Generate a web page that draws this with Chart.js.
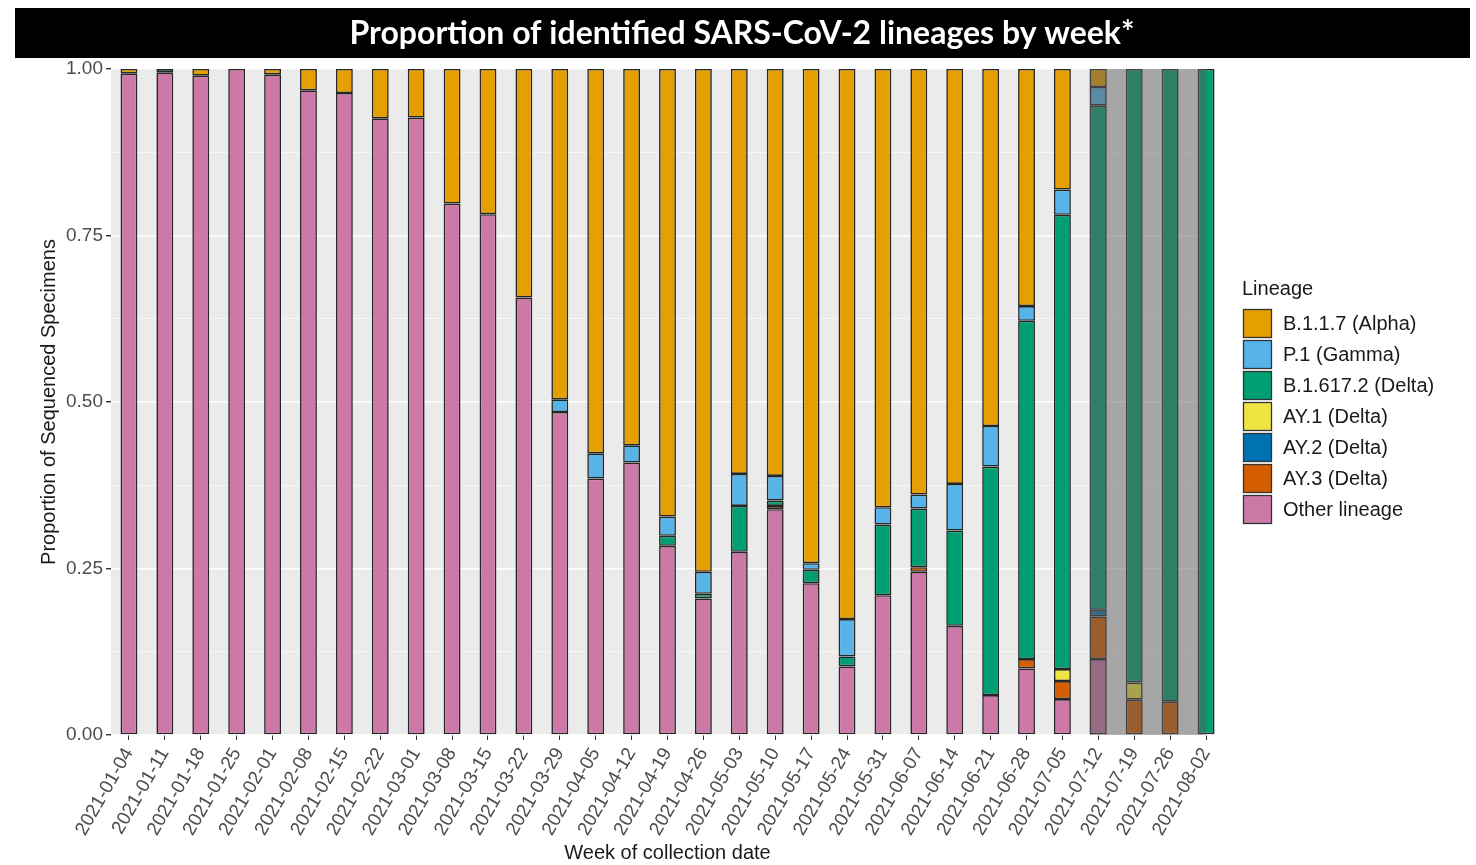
<!DOCTYPE html>
<html>
<head>
<meta charset="utf-8">
<script src="https://cdn.jsdelivr.net/npm/chart.js@4.4.1/dist/chart.umd.min.js"></script>
<style>
  body { margin: 0; background: #fff; }
  canvas { display: block; }
</style>
</head>
<body>
<canvas id="lineages" width="1476" height="865"></canvas>
<script>
// weeks of collection date
var weeks = ['2021-01-04','2021-01-11','2021-01-18','2021-01-25','2021-02-01','2021-02-08','2021-02-15',
  '2021-02-22','2021-03-01','2021-03-08','2021-03-15','2021-03-22','2021-03-29','2021-04-05','2021-04-12',
  '2021-04-19','2021-04-26','2021-05-03','2021-05-10','2021-05-17','2021-05-24','2021-05-31','2021-06-07',
  '2021-06-14','2021-06-21','2021-06-28','2021-07-05','2021-07-12','2021-07-19','2021-07-26','2021-08-02'];

// proportions per lineage (stack order bottom -> top)
var other = [0.993,0.995,0.990,1.000,0.992,0.968,0.964,0.926,0.927,0.798,0.782,0.657,0.485,0.385,0.409,
  0.284,0.205,0.275,0.339,0.228,0.103,0.210,0.245,0.164,0.060,0.100,0.054,0.114,0,0,0];
var ay3 = [0,0,0,0,0,0,0,0,0,0,0,0,0,0,0,0,0,0,0.005,0,0,0,0.007,0,0,0.014,0.027,0.064,0.053,0.050,0];
var ay2 = [0,0,0,0,0,0,0,0,0,0,0,0,0,0,0,0,0,0,0,0,0,0,0,0,0,0,0,0.010,0,0,0];
var ay1 = [0,0,0,0,0,0,0,0,0,0,0,0,0,0,0,0,0,0,0,0,0,0,0,0,0,0,0.018,0,0.026,0,0];
var delta = [0,0.005,0,0,0,0,0,0,0,0,0,0,0,0,0,0.015,0.007,0.069,0.008,0.020,0.015,0.106,0.088,0.143,
  0.343,0.508,0.682,0.757,0.921,0.950,1.000];
var gamma = [0,0,0,0,0,0,0,0,0,0,0,0,0.019,0.038,0.026,0.029,0.033,0.048,0.037,0.010,0.056,0.026,0.021,
  0.070,0.061,0.022,0.038,0.028,0,0,0];
var alpha = [0.007,0,0.010,0,0.008,0.032,0.036,0.074,0.073,0.202,0.218,0.343,0.496,0.577,0.565,0.672,
  0.755,0.608,0.611,0.742,0.826,0.658,0.639,0.623,0.536,0.356,0.181,0.027,0,0,0];

var yTicks = [0, 0.25, 0.5, 0.75, 1];

var series = [
  { label: 'Other lineage', data: other, color: '#CC79A7' },
  { label: 'AY.3 (Delta)', data: ay3, color: '#D55E00' },
  { label: 'AY.2 (Delta)', data: ay2, color: '#0072B2' },
  { label: 'AY.1 (Delta)', data: ay1, color: '#F0E442' },
  { label: 'B.1.617.2 (Delta)', data: delta, color: '#009E73' },
  { label: 'P.1 (Gamma)', data: gamma, color: '#56B4E9' },
  { label: 'B.1.1.7 (Alpha)', data: alpha, color: '#E69F00' }
];

var FONT = "'Liberation Sans', Arial, sans-serif";

function isMajor(v) {
  return yTicks.some(function (t) { return Math.abs(t - v) < 1e-6; });
}

var backdrop = {
  id: 'backdrop',
  beforeDraw: function (chart) {
    var c = chart.ctx, a = chart.chartArea, x = chart.scales.x;
    var w = x.getPixelForValue(1) - x.getPixelForValue(0);
    c.save();
    c.fillStyle = '#fff';
    c.fillRect(0, 0, chart.width, chart.height);
    // title banner
    c.fillStyle = '#000';
    c.fillRect(15, 8, 1455, 50);
    c.fillStyle = '#fff';
    c.font = "bold 32px Lato, 'Open Sans', sans-serif";
    c.textAlign = 'center';
    c.textBaseline = 'middle';
    c.fillText('Proportion of identified SARS-CoV-2 lineages by week*', 742, 34);
    // grey panel
    c.fillStyle = '#EBEBEB';
    c.fillRect(a.left, a.top, x.getPixelForValue(30) + 0.25 * w - a.left, a.bottom - a.top);
    c.restore();
  },
  afterDatasetsDraw: function (chart) {
    var c = chart.ctx, a = chart.chartArea, x = chart.scales.x;
    var w = x.getPixelForValue(1) - x.getPixelForValue(0);
    var x0 = x.getPixelForValue(27) - 0.25 * w;
    var x1 = x.getPixelForValue(30);
    c.save();
    c.fillStyle = 'rgba(94,94,94,0.49)';
    c.fillRect(x0, a.top, x1 - x0, a.bottom - a.top);
    c.restore();
  },
  afterDraw: function (chart) {
    var c = chart.ctx;
    c.save();
    c.fillStyle = '#1a1a1a';
    c.font = '20px ' + FONT;
    c.textAlign = 'left';
    c.textBaseline = 'middle';
    c.fillText('Lineage', 1242, 289);
    var items = series.slice().reverse();
    items.forEach(function (s, i) {
      var y = 309 + i * 31;
      c.fillStyle = s.color;
      c.fillRect(1243, y, 29, 29);
      c.strokeStyle = '#333';
      c.lineWidth = 1.3;
      c.strokeRect(1243.5, y + 0.5, 28, 28);
      c.fillStyle = '#1a1a1a';
      c.font = '20px ' + FONT;
      c.fillText(s.label, 1283, y + 15);
    });
    c.restore();
  }
};

new Chart(document.getElementById('lineages').getContext('2d'), {
  type: 'bar',
  data: {
    labels: weeks,
    datasets: series.map(function (s) {
      return {
        label: s.label,
        data: s.data.map(function (v) { return v || null; }),
        backgroundColor: s.color,
        borderColor: '#262626',
        borderWidth: 1.6,
        borderSkipped: false,
        categoryPercentage: 1,
        barPercentage: 0.47
      };
    })
  },
  options: {
    responsive: false,
    animation: false,
    devicePixelRatio: 1,
    layout: { padding: { left: 33, top: 69, right: 252, bottom: 0 } },
    plugins: {
      legend: { display: false },
      title: { display: false },
      tooltip: { enabled: false }
    },
    scales: {
      x: {
        stacked: true,
        offset: true,
        border: { display: false },
        grid: { offset: false, drawOnChartArea: false, drawTicks: true, tickLength: 5, tickColor: '#333' },
        ticks: {
          autoSkip: false, minRotation: 60, maxRotation: 60, padding: 4,
          color: '#4D4D4D', font: { family: FONT, size: 19 }
        },
        title: {
          display: true, text: 'Week of collection date', color: '#1a1a1a',
          font: { family: FONT, size: 20 }, padding: { top: 0, bottom: 0 }
        },
        afterFit: function (s) { s.height = 130; }
      },
      y: {
        stacked: true,
        min: 0,
        max: 1,
        border: { display: false },
        grid: {
          color: '#fff',
          lineWidth: function (ctx) { return ctx.tick && isMajor(ctx.tick.value) ? 1.4 : 0.6; },
          tickColor: function (ctx) { return ctx.tick && isMajor(ctx.tick.value) ? '#333' : 'rgba(0,0,0,0)'; },
          tickLength: 5
        },
        ticks: {
          stepSize: 0.125,
          padding: 3,
          color: '#4D4D4D',
          font: { family: FONT, size: 19 },
          callback: function (v) { return isMajor(v) ? v.toFixed(2) : ''; }
        },
        title: {
          display: true, text: 'Proportion of Sequenced Specimens', color: '#1a1a1a',
          font: { family: FONT, size: 20 }, padding: { top: 4, bottom: 4 }
        },
        afterFit: function (s) { s.width = 78; }
      }
    }
  },
  plugins: [backdrop]
});
</script>
</body>
</html>
